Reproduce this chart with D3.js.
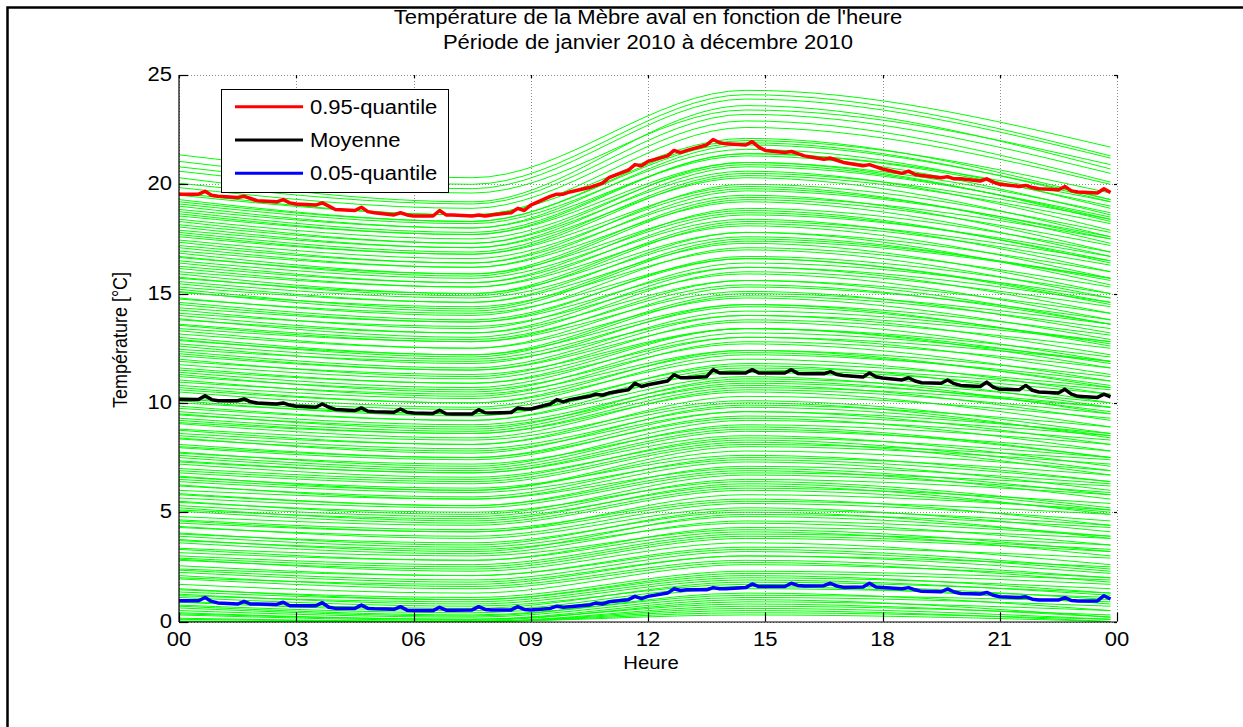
<!DOCTYPE html>
<html>
<head>
<meta charset="utf-8">
<script src="https://cdn.jsdelivr.net/npm/d3@7"></script>
<style>
  body { margin: 0; background: #fff; }
  svg text { font-family: "Liberation Sans", Arial, Helvetica, sans-serif; fill: #000; }
</style>
</head>
<body>
<svg id="chart" width="1243" height="727"></svg>
<script>
// ---- data ----
var xTickHours = [0, 3, 6, 9, 12, 15, 18, 21, 24];
var xTickLabels = ["00", "03", "06", "09", "12", "15", "18", "21", "00"];
var yTicks = [0, 5, 10, 15, 20, 25];

// samples inside each hour (minutes): the :40 sample carries the small hourly spike
var sampleMinutes = [0, 30, 40, 50];

// 0.95-quantile, 4 samples per hour (h:00, h:30, h:40, h:50)
var q95 = [
  19.55, 19.55, 19.68, 19.5,   19.45, 19.4, 19.45, 19.35,   19.25, 19.2, 19.3, 19.15,
  19.1, 19.05, 19.15, 19.0,    18.85, 18.8, 18.95, 18.75,   18.7, 18.6, 18.7, 18.6,
  18.55, 18.55, 18.8, 18.6,    18.6, 18.55, 18.6, 18.55,    18.6, 18.7, 18.9, 18.8,
  19.05, 19.45, 19.55, 19.55,  19.65, 19.85, 19.95, 20.05,  20.3, 20.65, 20.9, 20.85,
  21.05, 21.3, 21.55, 21.45,   21.55, 21.8, 22.05, 21.9,    21.85, 21.8, 21.95, 21.7,
  21.55, 21.45, 21.5, 21.4,    21.3, 21.15, 21.2, 21.1,     21.0, 20.85, 20.9, 20.8,
  20.7, 20.5, 20.6, 20.45,     20.4, 20.3, 20.35, 20.25,    20.25, 20.15, 20.25, 20.1,
  20.0, 19.9, 19.95, 19.85,    19.8, 19.75, 19.9, 19.7,     19.65, 19.6, 19.8, 19.62
];
// mean
var moyenne = [
  10.15, 10.15, 10.33, 10.15,  10.1, 10.1, 10.18, 10.05,    10.0, 9.95, 10.0, 9.9,
  9.85, 9.8, 9.95, 9.8,        9.7, 9.65, 9.77, 9.62,       9.6, 9.57, 9.72, 9.57,
  9.54, 9.52, 9.66, 9.5,       9.49, 9.49, 9.69, 9.55,      9.54, 9.56, 9.77, 9.72,
  9.72, 9.95, 10.15, 10.05,    10.15, 10.3, 10.4, 10.35,    10.45, 10.6, 10.9, 10.75,
  10.83, 11.0, 11.29, 11.15,   11.15, 11.2, 11.52, 11.37,   11.37, 11.37, 11.52, 11.37,
  11.37, 11.37, 11.52, 11.35,  11.33, 11.33, 11.43, 11.3,   11.25, 11.18, 11.37, 11.2,
  11.14, 11.05, 11.15, 11.0,   10.92, 10.9, 11.05, 10.88,   10.8, 10.75, 10.95, 10.72,
  10.62, 10.6, 10.8, 10.58,    10.5, 10.45, 10.62, 10.4,    10.3, 10.25, 10.4, 10.28
];
// 0.05-quantile
var q05 = [
  0.95, 0.95, 1.1, 0.92,   0.85, 0.8, 0.92, 0.8,    0.8, 0.78, 0.88, 0.72,
  0.72, 0.72, 0.86, 0.65,  0.6, 0.6, 0.75, 0.6,     0.58, 0.56, 0.68, 0.52,
  0.5, 0.5, 0.65, 0.52,    0.52, 0.53, 0.68, 0.55,  0.53, 0.53, 0.68, 0.55,
  0.53, 0.6, 0.7, 0.65,    0.68, 0.75, 0.85, 0.8,   0.9, 1.0, 1.15, 1.05,
  1.15, 1.3, 1.5, 1.42,    1.45, 1.45, 1.55, 1.5,   1.5, 1.55, 1.72, 1.6,
  1.6, 1.6, 1.75, 1.65,    1.62, 1.64, 1.75, 1.62,  1.56, 1.58, 1.75, 1.58,
  1.56, 1.5, 1.55, 1.45,   1.38, 1.36, 1.49, 1.35,  1.28, 1.26, 1.33, 1.2,
  1.13, 1.1, 1.13, 1.02,   0.98, 0.98, 1.09, 0.96,  0.94, 0.94, 1.18, 1.03
];

// daily curves (one per day): temperature at 00:00, 07:30, 14:30, 23:50
var dayHours = [0, 7.5, 14.5, 23.833];
var days = [
  [0,0,0.3,0],[0,0,0.5,0],[0.02,0,0.4,0.1],[0.1,0,0.7,0.3],[0.15,0,0.6,0.1],
  [0.3,0.05,0.9,0.5],[0.35,0.1,0.8,0.2],[0.4,0.1,1.0,0.2],[0.5,0.2,1.1,0.7],[0.62,0.25,1.3,0.5],
  [0.7,0.3,1.2,0.9],[0.75,0.4,1.5,1.1],[0.88,0.5,1.6,0.8],[0.92,0.6,1.8,1.3],[1.1,0.7,1.7,1.0],
  [1.18,0.9,2.0,1.5],[1.25,0.8,1.9,1.2],[1.35,1.0,2.2,1.7],[1.45,1.1,2.3,1.9],[1.5,1.0,2.1,1.3],
  [1.7,1.3,2.6,2.0],[1.95,1.5,2.7,1.8],[2.0,1.7,3.0,2.5],[2.1,1.6,2.8,2.0],[2.25,1.8,3.0,2.2],
  [2.35,1.9,3.2,2.3],[2.4,2.1,3.4,2.9],[2.55,2.1,3.3,2.4],[2.8,2.4,3.8,3.2],[2.85,2.3,3.6,2.6],
  [2.9,2.5,3.9,3.3],[3.0,2.6,4.0,3.5],[3.15,2.8,4.1,3.0],[3.3,2.8,4.3,3.8],[3.35,3.0,4.2,3.2],
  [3.6,3.1,4.6,3.9],[3.7,3.3,4.5,3.5],[3.75,3.2,4.9,4.3],[3.9,3.4,4.8,3.9],[4.0,3.6,5.0,3.8],
  [4.05,3.5,5.1,4.4],[4.3,3.9,5.4,4.6],[4.35,3.8,5.2,4.1],[4.5,4.1,5.5,4.9],[4.6,4.1,5.8,5.1],
  [4.65,4.2,5.6,4.4],[4.8,4.4,6.0,5.0],[5.05,4.5,6.1,5.4],[5.1,4.7,6.2,4.9],[5.2,4.6,6.3,5.1],
  [5.3,4.8,6.5,5.8],[5.45,5.0,6.4,5.2],[5.5,4.9,6.7,5.9],[5.65,5.2,6.8,6.2],[5.8,5.3,6.9,5.6],
  [5.85,5.3,7.1,6.3],[6.0,5.6,7.0,5.8],[6.2,5.7,7.5,6.7],[6.25,5.6,7.3,6.0],[6.4,5.9,7.4,6.4],
  [6.5,6.0,7.8,6.9],[6.6,6.1,7.6,6.4],[6.65,6.0,8.0,7.2],[6.8,6.3,8.1,7.4],[6.9,6.4,8.2,6.7],
  [7.0,6.5,8.4,7.5],[7.2,6.6,8.3,6.9],[7.3,6.8,8.7,7.8],[7.35,6.8,8.5,7.1],[7.5,6.9,8.8,7.5],
  [7.6,7.0,9.0,8.1],[7.7,7.2,8.9,7.5],[7.75,7.1,9.2,8.3],[7.95,7.4,9.4,8.5],[8.0,7.5,9.3,7.8],
  [8.1,7.5,9.6,8.6],[8.35,7.8,9.6,8.1],[8.4,7.7,9.9,8.9],[8.5,7.9,9.8,8.5],[8.6,8.1,10.0,8.4],
  [8.75,8.1,10.3,9.3],[8.8,8.3,10.1,8.6],[9.05,8.4,10.6,9.5],[9.1,8.6,10.5,8.9],[9.2,8.6,10.7,9.8],
  [9.3,8.7,10.9,9.8],[9.45,8.9,10.8,9.2],[9.5,8.8,11.1,10.0],[9.6,9.0,11.0,9.6],[9.75,9.2,11.2,9.5],
  [9.85,9.2,11.5,10.4],[10.0,9.5,11.4,9.8],[10.1,9.4,11.6,10.6],[10.2,9.5,11.8,10.7],[10.25,9.7,11.7,10.0],
  [10.5,9.8,12.2,11.0],[10.6,10.0,12.0,10.4],[10.7,10.0,12.4,11.2],[10.8,10.2,12.3,10.8],[10.95,10.4,12.4,10.7],
  [11.05,10.3,12.8,11.6],[11.2,10.6,12.7,11.0],[11.3,10.5,13.0,11.9],[11.4,10.7,13.2,11.9],[11.5,10.9,13.0,11.3],
  [11.6,10.9,13.4,12.1],[11.75,11.1,13.4,11.8],[11.9,11.3,13.4,11.6],[12.0,11.2,13.8,12.5],[12.15,11.5,13.7,11.9],
  [12.25,11.5,14.0,12.8],[12.35,11.6,14.2,12.8],[12.45,11.9,14.0,12.2],[12.6,11.8,14.5,13.1],[12.7,12.0,14.4,12.7],
  [12.85,12.2,14.5,12.6],[12.9,12.1,14.9,13.4],[13.0,12.2,15.0,13.6],[13.15,12.5,14.8,12.9],[13.3,12.5,15.3,13.8],
  [13.4,12.8,15.1,13.2],[13.55,12.8,15.6,14.1],[13.6,12.9,15.4,13.6],[13.8,13.2,15.6,13.6],[13.85,13.0,16.0,14.4],
  [14.0,13.2,16.2,14.6],[14.1,13.5,15.9,13.8],[14.25,13.4,16.4,14.8],[14.35,13.7,16.2,14.1],[14.5,13.7,16.7,15.0],
  [14.6,13.8,16.6,14.6],[14.75,14.1,16.6,14.5],[14.8,14.0,17.1,15.3],[15.05,14.4,17.0,14.8],[15.1,14.2,17.4,15.7],
  [15.2,14.3,17.5,15.7],[15.3,14.6,17.3,15.0],[15.45,14.6,17.8,16.0],[15.55,14.8,17.6,15.6],[15.7,15.0,17.8,15.4],
  [15.75,14.9,18.2,16.3],[15.9,15.0,18.3,16.5],[16.0,15.3,18.1,15.7],[16.15,15.3,18.6,16.7],[16.25,15.5,18.4,16.0],
  [16.4,15.5,18.9,16.9],[16.5,15.7,18.7,16.5],[16.65,15.9,18.8,16.4],[16.7,15.8,19.3,17.2],[16.85,15.9,19.4,17.5],
  [16.95,16.2,19.2,16.7],[17.1,16.2,19.7,17.6],[17.2,16.4,19.5,16.9],[17.35,16.4,20.0,17.8],[17.45,16.6,19.8,17.5],
  [17.6,16.8,19.9,17.3],[17.7,16.8,20.4,18.2],[17.8,16.9,20.5,18.4],[17.9,17.1,20.3,17.6],[18.05,17.1,20.8,18.5],
  [18.15,17.3,20.6,17.9],[18.3,17.3,21.0,18.7],[18.4,17.5,20.9,18.4],[18.55,17.7,21.0,18.3],[18.65,17.7,21.4,19.0],
  [18.75,17.8,21.4,19.2],[18.85,18.0,21.3,18.6],[19.0,18.0,21.8,19.3],[19.1,18.2,21.6,18.9],[19.2,18.3,21.9,19.2],
  [19.3,18.3,22.0,19.6],[19.5,18.6,22.1,19.3],[19.6,18.6,22.6,20.0],[19.85,18.9,22.9,20.1],[20.05,19.1,23.2,20.5],
  [20.3,19.2,23.6,20.7],[20.6,19.6,23.4,20.9],[20.8,19.8,23.9,21.2],[21.05,20.0,24.1,21.3],[21.35,20.3,24.3,21.7]
];

var legendItems = [
  { label: "0.95-quantile", color: "#ff0000", values: q95 },
  { label: "Moyenne", color: "#000000", values: moyenne },
  { label: "0.05-quantile", color: "#0000ff", values: q05 }
];

// ---- drawing ----
var svg = d3.select("#chart");
var sx = 1.13;            // the figure is stretched horizontally
var fontSize = 19.5;
var labelSize = 18;

var plot = {left: 179, top: 75, right: 1117, bottom: 621.5};

var x = d3.scaleLinear().domain([0, 24]).range([plot.left, plot.right]);
var y = d3.scaleLinear().domain([0, 25]).range([plot.bottom, plot.top]);

function addText(g, px, py, str, anchor, size) {
    return g.append("text")
        .attr("transform", "translate(" + px + "," + py + ") scale(" + sx + ",1)")
        .attr("text-anchor", anchor || "start")
        .style("font-size", (size || fontSize) + "px")
        .text(str);
}

// figure frame
svg.append("rect")
    .attr("x", 7.5).attr("y", 7.5)
    .attr("width", 1400).attr("height", 900)
    .attr("fill", "none").attr("stroke", "#000").attr("stroke-width", 2.5);

// time samples shared by the three summary curves
var sampleHours = [];
d3.range(24).forEach(function(h){
    sampleMinutes.forEach(function(m){ sampleHours.push(h + m / 60); });
});

// daily green curves
var dayLine = d3.line()
    .x(function(d, i){ return x(dayHours[i]); })
    .y(function(d){ return y(d); })
    .curve(d3.curveMonotoneX);

svg.append("g").selectAll("path")
    .data(days)
    .enter().append("path")
    .attr("d", dayLine)
    .attr("fill", "none")
    .attr("stroke", "#00ff00")
    .attr("stroke-width", 1);

// grid (dotted, grey)
var grid = svg.append("g").attr("stroke", "#8c8c8c").attr("stroke-width", 1)
    .attr("stroke-dasharray", "1,2");
grid.selectAll("line.gx")
    .data(xTickHours)
    .enter().append("line")
    .attr("x1", function(d){ return Math.round(x(d)) + 0.5; })
    .attr("x2", function(d){ return Math.round(x(d)) + 0.5; })
    .attr("y1", plot.top).attr("y2", plot.bottom);
grid.selectAll("line.gy")
    .data(yTicks)
    .enter().append("line")
    .attr("y1", function(d){ return Math.round(y(d)) + 0.5; })
    .attr("y2", function(d){ return Math.round(y(d)) + 0.5; })
    .attr("x1", plot.left).attr("x2", plot.right);

// summary curves
var sumLine = d3.line()
    .x(function(d, i){ return x(sampleHours[i]); })
    .y(function(d){ return y(d); });

svg.append("g").selectAll("path")
    .data(legendItems)
    .enter().append("path")
    .attr("d", function(d){ return sumLine(d.values); })
    .attr("fill", "none")
    .attr("stroke", function(d){ return d.color; })
    .attr("stroke-width", 3.5)
    .attr("stroke-linejoin", "round");

// axes: left and bottom solid, ticks inward
var axes = svg.append("g").attr("stroke", "#000").attr("stroke-width", 1.2);
axes.append("line").attr("x1", plot.left).attr("x2", plot.left)
    .attr("y1", plot.top).attr("y2", plot.bottom + 0.5);
axes.append("line").attr("x1", plot.left).attr("x2", plot.right)
    .attr("y1", plot.bottom + 0.5).attr("y2", plot.bottom + 0.5);

xTickHours.forEach(function(h){
    var px = Math.round(x(h)) + 0.5;
    axes.append("line").attr("x1", px).attr("x2", px)
        .attr("y1", plot.bottom).attr("y2", plot.bottom - 9);
    axes.append("line").attr("x1", px).attr("x2", px)
        .attr("y1", plot.top).attr("y2", plot.top + 3);
});
yTicks.forEach(function(v){
    var py = Math.round(y(v)) + 0.5;
    axes.append("line").attr("x1", plot.left).attr("x2", plot.left + 9)
        .attr("y1", py).attr("y2", py);
    axes.append("line").attr("x1", plot.right).attr("x2", plot.right - 3)
        .attr("y1", py).attr("y2", py);
});

// tick labels
var labels = svg.append("g");
xTickHours.forEach(function(h, i){
    addText(labels, x(h), 646, xTickLabels[i], "middle");
});
yTicks.forEach(function(v){
    addText(labels, 172, y(v) + 6, String(v), "end");
});

// axis titles
addText(labels, (plot.left + plot.right) / 2 + 3, 669, "Heure", "middle", labelSize);
labels.append("text")
    .attr("transform", "translate(127,340) rotate(-90) scale(1," + sx + ")")
    .attr("text-anchor", "middle")
    .style("font-size", labelSize + "px")
    .text("Température [°C]");

// title
addText(labels, (plot.left + plot.right) / 2, 24, "Température de la Mèbre aval en fonction de l'heure", "middle");
addText(labels, (plot.left + plot.right) / 2, 49, "Période de janvier 2010 à décembre 2010", "middle");

// legend
var legend = svg.append("g");
legend.append("rect")
    .attr("x", 221.5).attr("y", 89.5)
    .attr("width", 227).attr("height", 103)
    .attr("fill", "#fff").attr("stroke", "#000").attr("stroke-width", 1);
legendItems.forEach(function(d, i){
    var ly = 106.7 + i * 33.3;
    legend.append("line")
        .attr("x1", 235).attr("x2", 303)
        .attr("y1", ly).attr("y2", ly)
        .attr("stroke", d.color).attr("stroke-width", 3);
    addText(legend, 310, ly + 7, d.label, "start");
});
</script>
</body>
</html>
